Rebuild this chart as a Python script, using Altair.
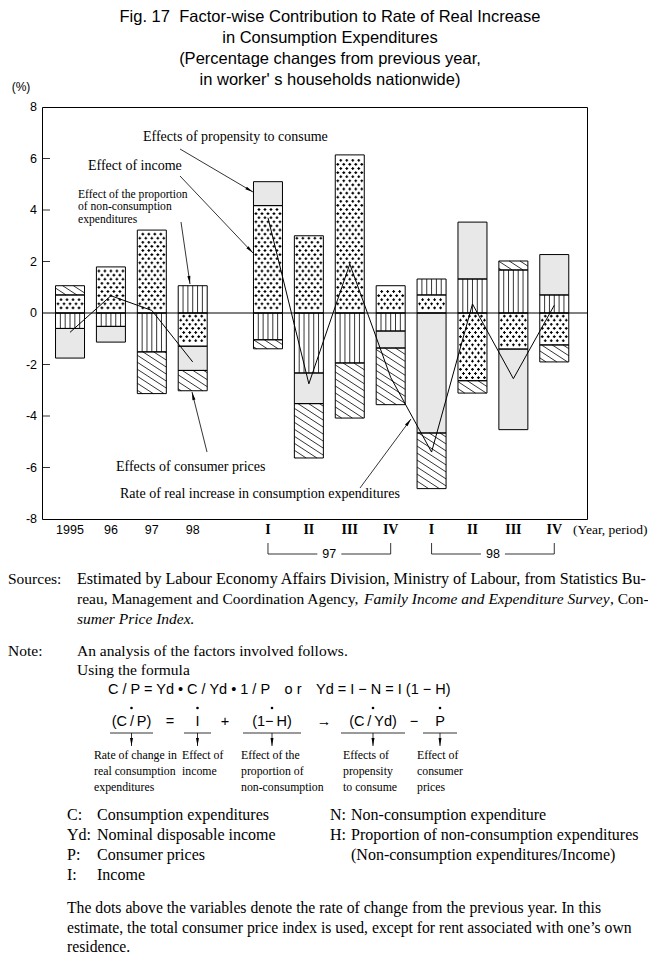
import math
import altair as alt
import pandas as pd

# ---------------- data ----------------
periods = ["1995", "1996", "1997", "1998",
           "97-I", "97-II", "97-III", "97-IV", "98-I", "98-II", "98-III", "98-IV"]
year_labels = ["1995", "96", "97", "98"]
quarter_labels = ["I", "II", "III", "IV", "I", "II", "III", "IV"]
bracket_labels = ["97", "98"]

income          = [0.70, 1.79, 3.22, -1.29, 4.17, 3.00, 6.14, 1.06, 0.70, -2.63, -1.40, -1.24]
non_consumption = [-0.60, -0.52, -1.51, 1.06, -1.04, -2.33, -1.94, -0.70, 0.62, 1.32, 1.67, 0.70]
propensity      = [-1.15, -0.61, 0.00, -0.94, 0.93, -1.19, 0.00, -0.66, -4.66, 2.21, -3.13, 1.57]
prices          = [0.36, 0.00, -1.62, -0.79, -0.35, -2.11, -2.14, -2.20, -2.16, -0.48, 0.35, -0.66]
real_rate       = [-0.75, 0.67, 0.10, -1.90, 3.70, -2.75, 1.90, -2.50, -5.40, 0.35, -2.55, 0.30]
y_ticks = [8, 6, 4, 2, 0, -2, -4, -6, -8]

# ---------------- layout ----------------
IMG_L, IMG_T = 42, 107          # page position of the plot origin
W, H = 545, 412
PXX = 40.9                      # px per period slot
XMIN = -0.685
XMAX = XMIN + W / PXX
YMIN, YMAX = -8, 8
PXY = H / (YMAX - YMIN)
HALF = 14.5 / PXX
Q0 = 4.84
slots = [float(i) for i in range(4)] + [Q0 + j for j in range(8)]
SANS, SERIF = "Liberation Sans", "Liberation Serif"


def X(px):
    return XMIN + (px - IMG_L) / PXX


def Y(py):
    return YMAX - (py - IMG_T) / PXY


def sx(v):
    return (v - XMIN) * PXX + IMG_L


def sy(v):
    return (YMAX - v) * PXY + IMG_T


xsc = alt.Scale(domain=[XMIN, XMAX], nice=False, zero=False)
ysc = alt.Scale(domain=[YMIN, YMAX], nice=False, zero=False)

# ---------------- stacked segments ----------------
components = [("income", income), ("noncons", non_consumption),
              ("propensity", propensity), ("prices", prices)]
segs = []
for i, per in enumerate(periods):
    pos = neg = 0.0
    for comp, vals in components:
        v = vals[i]
        if v == 0:
            continue
        if v > 0:
            y0, y1 = pos, pos + v
            pos += v
        else:
            y0, y1 = neg, neg + v
            neg += v
        segs.append(dict(period=per, comp=comp, xl=slots[i] - HALF, xr=slots[i] + HALF,
                         y0=y0, y1=y1))
seg_df = pd.DataFrame(segs)

# ---------------- fill patterns ----------------
dots, hatch = [], []
for s in segs:
    xl, xr = sx(s["xl"]), sx(s["xr"])
    yt, yb = sy(max(s["y0"], s["y1"])), sy(min(s["y0"], s["y1"]))
    if s["comp"] == "income":
        n = math.ceil((yt + 1.8 - IMG_T) / 4.1)
        while IMG_T + n * 4.1 < yb - 1.5:
            yy = IMG_T + n * 4.1
            offs = [2.5, 8.5, 14.5, 20.5, 26.5] if n % 2 == 0 else [5.5, 11.5, 17.5, 23.5]
            for o in offs:
                dots.append(dict(x=X(xl + o), y=Y(yy)))
            n += 1
    elif s["comp"] == "noncons":
        for k in range(1, 6):
            xx = xl + k * (xr - xl) / 6
            hatch.append(dict(x=X(xx), x2=X(xx), y=Y(yt), y2=Y(yb)))
    elif s["comp"] == "prices":
        sl, sp = 0.65, 7.0
        kmin, kmax = yt - sl * xr, yb - sl * xl
        k = math.ceil(kmin / sp) * sp
        while k < kmax:
            xa = max(xl, (yt - k) / sl)
            xb = min(xr, (yb - k) / sl)
            if xb - xa > 0.8:
                hatch.append(dict(x=X(xa), x2=X(xb), y=Y(sl * xa + k), y2=Y(sl * xb + k)))
            k += sp
dots_df = pd.DataFrame(dots)
hatch_df = pd.DataFrame(hatch)

rate_df = pd.DataFrame({"slot": slots, "rate": real_rate,
                        "grp": ["year"] * 4 + ["quarter"] * 8})

# ---------------- annotation geometry (page px) ----------------
lines, heads = [], []


def arrow(x1, y1, x2, y2, head=True):
    lines.append(dict(x=X(x1), x2=X(x2), y=Y(y1), y2=Y(y2)))
    if head:
        d = math.hypot(x2 - x1, y2 - y1)
        ux, uy = (x2 - x1) / d, (y2 - y1) / d
        heads.append(dict(x=X(x2 - ux * 4), y=Y(y2 - uy * 4),
                          ang=math.degrees(math.atan2(ux, -uy)) % 360))


arrow(180, 149, 253, 192)
arrow(180, 176, 253, 253)
arrow(181, 222, 190, 284)
arrow(207, 452, 192, 392)
arrow(360, 488, 411, 419)
for xa, xb in [(110, 153), (184, 211), (243, 301), (341, 405), (423, 457)]:
    arrow(xa, 733, xb, 733, head=False)
    arrow((xa + xb) / 2, 733, (xa + xb) / 2, 746)
# inward y ticks
for t in y_ticks:
    if t not in (8, 0, -8):
        arrow(IMG_L, sy(t), IMG_L + 8, sy(t), head=False)
# brackets under the quarters
texts = []
for b, lab in enumerate(bracket_labels):
    xa, xb = sx(Q0 + 4 * b), sx(Q0 + 4 * b + 3)
    mid = (xa + xb) / 2
    arrow(xa, 543, xa, 554, head=False)
    arrow(xb, 543, xb, 554, head=False)
    arrow(xa, 554, mid - 12, 554, head=False)
    arrow(mid + 12, 554, xb, 554, head=False)
    texts.append((lab, mid, 554, SANS, 12.5, "normal", "normal", "center"))
lines_df = pd.DataFrame(lines)
heads_df = pd.DataFrame(heads)
fdots_df = pd.DataFrame({"x": [X(v) for v in [131.5, 197.5, 272, 373, 440]],
                         "y": [Y(708)] * 5})

# ---------------- texts ----------------
for t in y_ticks:
    texts.append((str(t), 37, sy(t), SANS, 12.5, "normal", "normal", "right"))
for i, lab in enumerate(year_labels):
    texts.append((lab, sx(slots[i]), 530, SANS, 12.5, "normal", "normal", "center"))
for j, lab in enumerate(quarter_labels):
    texts.append((lab, sx(slots[4 + j]), 530, SERIF, 14, "normal", "bold", "center"))

title_lines = ["Fig. 17\u00a0\u00a0Factor-wise Contribution to Rate of Real Increase",
               "in Consumption Expenditures",
               "(Percentage changes from previous year,",
               "in worker' s households nationwide)"]
for k, t in enumerate(title_lines):
    texts.append((t, 330, 17 + 21 * k, SANS, 16.5, "normal", "normal", "center"))

texts += [
    ("(%)", 21, 87, SANS, 12, "normal", "normal", "center"),
    ("(Year, period)", 573, 530, SERIF, 13.5, "normal", "normal", "left"),
    ("Effects of propensity to consume", 143, 137, SERIF, 14, "normal", "normal", "left"),
    ("Effect of income", 88, 166, SERIF, 14, "normal", "normal", "left"),
    ("Effect of the proportion", 78, 194.5, SERIF, 11.6, "normal", "normal", "left"),
    ("of non-consumption", 78, 207, SERIF, 11.6, "normal", "normal", "left"),
    ("expenditures", 78, 219.5, SERIF, 11.6, "normal", "normal", "left"),
    ("Effects of consumer prices", 116, 467, SERIF, 14, "normal", "normal", "left"),
    ("Rate of real increase in consumption expenditures", 120, 494, SERIF, 14, "normal", "normal", "left"),
    ("Sources:", 8, 579, SERIF, 15.5, "normal", "normal", "left"),
    ("Estimated by Labour Economy Affairs Division, Ministry of Labour, from Statistics Bu-",
     77, 579, SERIF, 16.1, "normal", "normal", "left"),
    ("reau, Management and Coordination Agency,", 77, 599, SERIF, 15.5, "normal", "normal", "left"),
    ("Family Income and Expenditure Survey", 364, 599, SERIF, 15.5, "italic", "normal", "left"),
    (", Con-", 610, 599, SERIF, 15.5, "normal", "normal", "left"),
    ("sumer Price Index.", 77, 619, SERIF, 15.5, "italic", "normal", "left"),
    ("Note:", 8, 651, SERIF, 15.5, "normal", "normal", "left"),
    ("An analysis of the factors involved follows.", 77, 651, SERIF, 15.5, "normal", "normal", "left"),
    ("Using the formula", 77, 670, SERIF, 15.5, "normal", "normal", "left"),
    ("C / P = Yd \u2022 C / Yd \u2022 1 / P\u2003o r\u2003Yd = I \u2212 N = I (1 \u2212 H)",
     108, 690, SANS, 14.5, "normal", "normal", "left"),
    ("(C\u2009/\u2009P)", 131.5, 722, SANS, 14.5, "normal", "normal", "center"),
    ("=", 170, 722, SANS, 14.5, "normal", "normal", "center"),
    ("I", 197.5, 722, SANS, 14.5, "normal", "normal", "center"),
    ("+", 225, 722, SANS, 14.5, "normal", "normal", "center"),
    ("(1\u2212\u2009H)", 272, 722, SANS, 14.5, "normal", "normal", "center"),
    ("\u2192", 324, 722, SANS, 14.5, "normal", "normal", "center"),
    ("(C\u2009/\u2009Yd)", 373, 722, SANS, 14.5, "normal", "normal", "center"),
    ("\u2212", 414, 722, SANS, 14.5, "normal", "normal", "center"),
    ("P", 440, 722, SANS, 14.5, "normal", "normal", "center"),
]
desc = [(94, ["Rate of change in", "real consumption", "expenditures"]),
        (182, ["Effect of", "income"]),
        (241, ["Effect of the", "proportion of", "non-consumption"]),
        (343, ["Effects of", "propensity", "to consume"]),
        (417, ["Effect of", "consumer", "prices"])]
for xx, ls in desc:
    for k, t in enumerate(ls):
        texts.append((t, xx, 755 + 16 * k, SERIF, 11.8, "normal", "normal", "left"))
defs_left = [("C:", "Consumption expenditures"), ("Yd:", "Nominal disposable income"),
             ("P:", "Consumer prices"), ("I:", "Income")]
for k, (a, b) in enumerate(defs_left):
    texts.append((a, 67, 815 + 20 * k, SERIF, 16, "normal", "normal", "left"))
    texts.append((b, 97, 815 + 20 * k, SERIF, 16, "normal", "normal", "left"))
texts += [
    ("N:", 330, 815, SERIF, 16, "normal", "normal", "left"),
    ("Non-consumption expenditure", 351, 815, SERIF, 16, "normal", "normal", "left"),
    ("H:", 330, 835, SERIF, 16, "normal", "normal", "left"),
    ("Proportion of non-consumption expenditures", 351, 835, SERIF, 16, "normal", "normal", "left"),
    ("(Non-consumption expenditures/Income)", 351, 855, SERIF, 16, "normal", "normal", "left"),
]
para = ["The dots above the variables denote the rate of change from the previous year. In this",
        "estimate, the total consumer price index is used, except for rent associated with one\u2019s own",
        "residence."]
for k, t in enumerate(para):
    texts.append((t, 67, 908 + 19.5 * k, SERIF, 15.7, "normal", "normal", "left"))

text_df = pd.DataFrame(texts, columns=["text", "px", "py", "font", "size", "style", "weight", "align"])
text_df["x"] = text_df["px"].map(X)
text_df["y"] = text_df["py"].map(Y)

# ---------------- layers ----------------
fill = alt.Chart(seg_df).mark_rect(strokeWidth=0).encode(
    x=alt.X("xl:Q", scale=xsc, axis=None), x2="xr:Q",
    y=alt.Y("y0:Q", scale=ysc, axis=None), y2="y1:Q",
    color=alt.Color("comp:N", legend=None,
                    scale=alt.Scale(domain=["income", "noncons", "propensity", "prices"],
                                    range=["white", "white", "#e8e8e8", "white"])),
)
dot_layer = alt.Chart(dots_df).mark_point(shape="cross", filled=True, size=8, color="black",
                                          strokeWidth=0, opacity=1).encode(
    x=alt.X("x:Q", scale=xsc, axis=None), y=alt.Y("y:Q", scale=ysc, axis=None))
hatch_layer = alt.Chart(hatch_df).mark_rule(color="black", strokeWidth=0.8).encode(
    x=alt.X("x:Q", scale=xsc, axis=None), x2="x2:Q",
    y=alt.Y("y:Q", scale=ysc, axis=None), y2="y2:Q")
outline = alt.Chart(seg_df).mark_rect(fillOpacity=0, stroke="black", strokeWidth=1).encode(
    x=alt.X("xl:Q", scale=xsc, axis=None), x2="xr:Q",
    y=alt.Y("y0:Q", scale=ysc, axis=None), y2="y1:Q")
zero = alt.Chart(pd.DataFrame({"y": [0]})).mark_rule(color="black", strokeWidth=1).encode(
    y=alt.Y("y:Q", scale=ysc, axis=None))
rate = alt.Chart(rate_df).mark_line(color="black", strokeWidth=1).encode(
    x=alt.X("slot:Q", scale=xsc, axis=None), y=alt.Y("rate:Q", scale=ysc, axis=None),
    detail="grp:N")
ann_lines = alt.Chart(lines_df).mark_rule(color="black", strokeWidth=0.8).encode(
    x=alt.X("x:Q", scale=xsc, axis=None), x2="x2:Q",
    y=alt.Y("y:Q", scale=ysc, axis=None), y2="y2:Q")
ann_heads = alt.Chart(heads_df).mark_point(shape="M0,-1L0.38,1L-0.38,1Z", filled=True, size=64,
                                           color="black", strokeWidth=0, opacity=1).encode(
    x=alt.X("x:Q", scale=xsc, axis=None), y=alt.Y("y:Q", scale=ysc, axis=None),
    angle=alt.Angle("ang:Q", scale=None))
fdots = alt.Chart(fdots_df).mark_point(shape="circle", filled=True, size=7, color="black",
                                       strokeWidth=0, opacity=1).encode(
    x=alt.X("x:Q", scale=xsc, axis=None), y=alt.Y("y:Q", scale=ysc, axis=None))
text_layer = alt.Chart(text_df).mark_text(
    baseline="middle", color="black",
    font=alt.ExprRef(expr="datum.font"),
    fontStyle=alt.ExprRef(expr="datum.style"),
    fontWeight=alt.ExprRef(expr="datum.weight"),
    align=alt.ExprRef(expr="datum.align"),
).encode(
    x=alt.X("x:Q", scale=xsc, axis=None), y=alt.Y("y:Q", scale=ysc, axis=None),
    text="text:N", size=alt.Size("size:Q", scale=None, legend=None))

chart = alt.layer(fill, dot_layer, hatch_layer, outline, zero, rate, ann_lines, ann_heads,
                  fdots, text_layer).properties(
    width=W, height=H, autosize="none",
    padding={"left": IMG_L - 8, "top": IMG_T - 8, "right": 640 - (IMG_L - 8) - W,
             "bottom": 947 - (IMG_T - 8) - H},
).configure_view(stroke="black", strokeWidth=1)

chart.save("out.html", embed_options={"renderer": "svg", "actions": False})
